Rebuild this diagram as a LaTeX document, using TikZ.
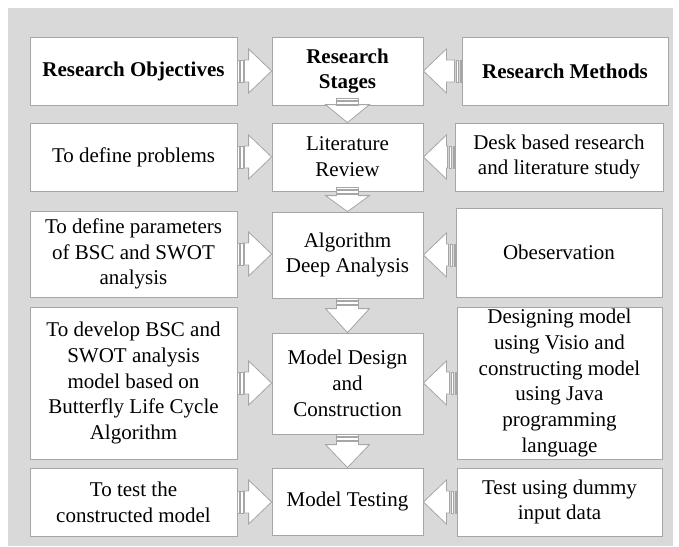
\documentclass[tikz,border=0pt]{standalone}
\usepackage{fontspec}
\setmainfont{Liberation Serif}
\usetikzlibrary{calc}
\definecolor{panel}{HTML}{D9D9D9}
\definecolor{edge}{HTML}{A6A6A6}
\tikzset{
  box/.style={draw=edge, line width=0.8pt, fill=white, inner sep=0pt, align=center,
    font=\fontsize{21}{25.8}\selectfont},
  headbox/.style={box, font=\fontsize{21}{25.8}\selectfont\bfseries},
  sarrow/.style={draw=edge, line width=0.8pt, fill=white, line join=miter},
}
% striped block arrow from #2 (base) to #3 (tip); optional #1 = head length
\newcommand\stripedarrow[3][23]{%
  \path let \p1=(#2), \p2=(#3) in \pgfextra{%
    \pgfmathsetmacro\SAlen{veclen(\x2-\x1,\y2-\y1)}%
    \pgfmathsetmacro\SAang{atan2(\y2-\y1,\x2-\x1)}%
    \pgfmathsetmacro\SAx{\x1}%
    \pgfmathsetmacro\SAy{\y1}%
    \global\let\SAlen\SAlen \global\let\SAang\SAang
    \global\let\SAx\SAx \global\let\SAy\SAy};
  \pgfmathsetmacro\SAneck{\SAlen-#1}%
  \begin{scope}[shift={(\SAx pt,\SAy pt)}, rotate=\SAang]
    \draw[sarrow] (0pt,-11pt) rectangle (1.5pt,11pt);
    \draw[sarrow] (3pt,-11pt) rectangle (5.5pt,11pt);
    \draw[sarrow] (7pt,-11pt) -- (\SAneck pt,-11pt) -- (\SAneck pt,-22pt)
      -- (\SAlen pt,0pt) -- (\SAneck pt,22pt) -- (\SAneck pt,11pt) -- (7pt,11pt) -- cycle;
  \end{scope}}
\begin{document}
\begin{tikzpicture}[x=1pt, y=-1pt]
  \useasboundingbox (0,0) rectangle (679,546);
  \fill[panel] (8,8) rectangle (673,546);

  % row 1: headings
  \node[headbox, minimum width=207pt, minimum height=68pt] (obj) at (133.5,71) {Research Objectives};
  \node[headbox, minimum width=151pt, minimum height=68pt] (stg) at (347.5,71) {Research\\Stages};
  \node[headbox, minimum width=206pt, minimum height=68pt] (mth) at (565,71) {Research Methods};

  % row 2
  \node[box, minimum width=207pt, minimum height=68pt] (prob) at (133.5,157) {To define problems};
  \node[box, minimum width=151pt, minimum height=68pt] (lit) at (347.5,157) {Literature\\Review};
  \node[box, minimum width=208pt, minimum height=68pt] (desk) at (559,157) {Desk based research\\and literature study};

  % row 3
  \node[box, minimum width=207pt, minimum height=86pt] (par) at (133.5,254) {To define parameters\\of BSC and SWOT\\analysis};
  \node[box, minimum width=151pt, minimum height=86pt] (alg) at (347.5,255) {Algorithm\\Deep Analysis};
  \node[box, minimum width=206pt, minimum height=89pt] (obs) at (559,252.5) {Obeservation};

  % row 4
  \node[box, minimum width=207pt, minimum height=152pt] (dev) at (133.5,383) {To develop BSC and\\SWOT analysis\\model based on\\Butterfly Life Cycle\\Algorithm};
  \node[box, minimum width=151pt, minimum height=101pt] (mdc) at (347.5,383.5) {Model Design\\and\\Construction};
  \node[box, minimum width=205pt, minimum height=152pt] (vis) at (559.5,383) {Designing model\\using Visio and\\constructing model\\using Java\\programming\\language};

  % row 5
  \node[box, minimum width=207pt, minimum height=68pt] (tst) at (133.5,502) {To test the\\constructed model};
  \node[box, minimum width=151pt, minimum height=67pt] (mt) at (347.5,501.5) {Model Testing};
  \node[box, minimum width=205pt, minimum height=68pt] (dum) at (559.5,502) {Test using dummy\\input data};

  % objectives feed the stages
  \stripedarrow{obj.east}{obj.east -| stg.west}
  \stripedarrow{prob.east}{prob.east -| lit.west}
  \stripedarrow{par.east}{par.east -| alg.west}
  \stripedarrow{dev.east}{dev.east -| mdc.west}
  \stripedarrow{tst.east}{tst.east -| mt.west}

  % methods feed the stages
  \stripedarrow{mth.west}{mth.west -| stg.east}
  \stripedarrow{desk.west}{desk.west -| lit.east}
  \stripedarrow{alg.east -| obs.west}{alg.east}
  \stripedarrow{vis.west}{vis.west -| mdc.east}
  \stripedarrow{dum.west}{dum.west -| mt.east}

  % stage sequence
  \stripedarrow[18]{$(stg.south)+(0,-7)$}{lit.north}
  \stripedarrow[16]{$(lit.south)+(0,-4)$}{alg.north}
  \stripedarrow[24]{alg.south}{mdc.north}
  \stripedarrow[23]{mdc.south}{mt.north}
\end{tikzpicture}
\end{document}
